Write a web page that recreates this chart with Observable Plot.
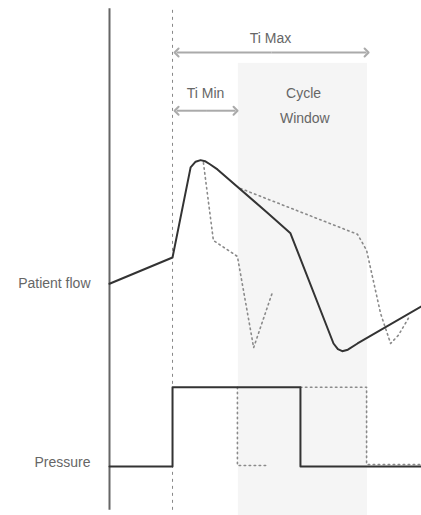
<!DOCTYPE html>
<html>
<head>
<meta charset="utf-8">
<script src="https://cdn.jsdelivr.net/npm/d3@7"></script>
<script src="https://cdn.jsdelivr.net/npm/@observablehq/plot@0.6"></script>
<style>
  html, body { margin: 0; padding: 0; background: #fff; }
  #chart svg { display: block; }
</style>
</head>
<body>
<div id="chart"></div>
<script>
// Time axis: 0..100 (arbitrary units), signal axis: 0..100 (arbitrary units)
const trackLabels = ["Patient flow", "Pressure"];
const trackLevels = [45, 10.3];

const breathStart = 20.2;     // inspiration trigger (dashed line)
const tiMinEnd = 40.4;
const tiMaxEnd = 82.4;
const cycleWindow = {t1: 41.3, t2: 82.7, top: 87.8};

// Patient flow, actual (solid)
const flowT = [0, 20.2, 26, 27.6, 29.2, 30.6, 32.2, 34.6, 50.6, 58, 71.8, 73.2, 74.6, 76.4, 79.5, 100];
const flowV = [45.0, 50.1, 67.6, 68.7, 69.0, 68.8, 68.2, 67.2, 58.8, 54.8, 33.4, 32.3, 31.9, 32.2, 33.4, 40.6];

// Patient flow, early cycle (dotted)
const earlyT = [30.1, 33.3, 41, 46.2, 52.2];
const earlyV = [68.5, 53.4, 50.3, 32.6, 43.3];

// Patient flow, late cycle (dotted)
const lateT = [42, 79.5, 82.4, 86.9, 90.1, 92.6, 95.8];
const lateV = [63.5, 54.6, 51.5, 39.2, 33.4, 35.0, 38.3];

// Pressure, actual (solid)
const presT = [0, 20.2, 20.2, 61.2, 61.2, 100];
const presV = [9.5, 9.5, 24.9, 24.9, 9.5, 9.5];

// Pressure, early cycle (dotted)
const presEarlyT = [41, 41, 51];
const presEarlyV = [24.9, 9.7, 9.7];

// Pressure, late cycle (dotted)
const presLateT = [61.2, 82.4, 82.4, 100];
const presLateV = [24.9, 24.9, 9.9, 9.9];

// Annotations
const spans = [
  {name: "Ti Max", t1: 21.5, t2: tiMaxEnd, v: 89.9},
  {name: "Ti Min", t1: 21.5, t2: tiMinEnd, v: 78.6}
];
const notes = [
  {text: "Ti Max", t: 51.6, v: 91.7},
  {text: "Ti Min", t: 30.8, v: 81.0},
  {text: "Cycle", t: 62.2, v: 81.0},
  {text: "Window", t: 62.6, v: 76.3}
];

const pts = (T, V) => T.map((t, i) => ({t, v: V[i]}));
// each double-headed span drawn as two halves from its middle outward
const halves = spans.flatMap(s => {
  const m = (s.t1 + s.t2) / 2;
  return [{from: m, to: s.t1, v: s.v}, {from: m, to: s.t2, v: s.v}];
});

const dotted = {x: "t", y: "v", stroke: "#8a8a8a", strokeWidth: 1.6, strokeDasharray: "1.5,3.5", strokeLinecap: "round"};

const chart = Plot.plot({
  width: 421,
  height: 515,
  marginLeft: 109,
  marginRight: 0,
  marginTop: 0,
  marginBottom: 0,
  style: {fontFamily: "'Liberation Sans', Arial, sans-serif", fontSize: "14px", background: "#fff"},
  x: {domain: [0, 100], axis: null},
  y: {domain: [0, 100], axis: null},
  marks: [
    Plot.rect([cycleWindow], {x1: "t1", x2: "t2", y1: 0, y2: "top", fill: "#f5f5f5"}),
    Plot.ruleX([0], {y1: 1, y2: 98.4, stroke: "#666", strokeWidth: 2}),
    Plot.ruleX([breathStart], {y1: 1, y2: 98.4, stroke: "#888", strokeWidth: 1, strokeDasharray: "3,4"}),
    Plot.axisY(trackLevels, {
      tickSize: 0, tickPadding: 19,
      tickFormat: (d, i) => trackLabels[i],
      fill: "#666", fontSize: 14
    }),
    Plot.line(pts(earlyT, earlyV), dotted),
    Plot.line(pts(lateT, lateV), dotted),
    Plot.line(pts(presEarlyT, presEarlyV), dotted),
    Plot.line(pts(presLateT, presLateV), dotted),
    Plot.line(pts(flowT, flowV), {x: "t", y: "v", stroke: "#333", strokeWidth: 2, strokeLinejoin: "round"}),
    Plot.line(pts(presT, presV), {x: "t", y: "v", stroke: "#333", strokeWidth: 2}),
    Plot.link(halves, {x1: "from", x2: "to", y1: "v", y2: "v", stroke: "#aaa", strokeWidth: 2, markerEnd: "arrow"}),
    Plot.text(notes, {x: "t", y: "v", text: "text", fill: "#666", fontSize: 14, textAnchor: "middle", lineAnchor: "bottom"})
  ]
});
document.getElementById("chart").appendChild(chart);
</script>
</body>
</html>
